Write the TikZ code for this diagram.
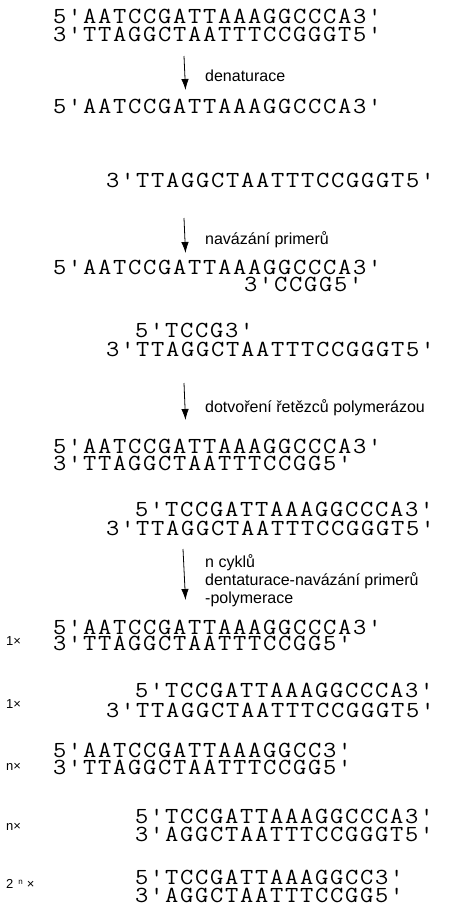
\documentclass[tikz,border=0pt]{standalone}
\usepackage{fontspec}
\setmainfont{Liberation Sans}
\usetikzlibrary{arrows.meta}
\newcommand\dnacells[1]{\dnaloop#1\relax}
\def\dnaloop#1{\ifx\relax#1\else\makebox[15bp]{\scalebox{1.12}[1]{\ifx'#1\textquotesingle\else#1\fi}}\expandafter\dnaloop\fi}
\tikzset{
  dna/.style={anchor=base west, inner sep=0pt, text height=14bp, text depth=0pt, font=\ttfamily\fontsize{23bp}{23bp}\selectfont},
  lab/.style={anchor=base west, inner sep=0pt, font=\fontsize{16bp}{18bp}\selectfont},
  mult/.style={anchor=base west, inner sep=0pt, font=\fontsize{13bp}{13bp}\selectfont},
  arr/.style={-{Latex[length=11bp,width=7.5bp]}, line width=0.8bp}
}
\begin{document}
\begin{tikzpicture}[x=1bp,y=-1bp]
\path[use as bounding box, fill=white] (0,0) rectangle (449,917);
% step 1
\node[dna] (s1) at (52,23.3) {\dnacells{5'AATCCGATTAAAGGCCCA3'}};
\node[dna] (s2) at (52,41) {\dnacells{3'TTAGGCTAATTTCCGGGT5'}};
\coordinate (a1s) at (184,56);
\coordinate (a1e) at (185.5,90);
\draw[arr] (a1s) -- (a1e);
\node[lab] (l1) at (205,81) {denaturace};
% step 2
\node[dna] (s3) at (52,113.5) {\dnacells{5'AATCCGATTAAAGGCCCA3'}};
\node[dna] (s4) at (105,187) {\dnacells{3'TTAGGCTAATTTCCGGGT5'}};
\coordinate (a2s) at (184,218);
\coordinate (a2e) at (185.5,253);
\draw[arr] (a2s) -- (a2e);
\node[lab] (l2) at (205,244) {navázání primerů};
% step 3
\node[dna] (s5) at (52,274.5) {\dnacells{5'AATCCGATTAAAGGCCCA3'}};
\node[dna] (s6) at (243,291) {\dnacells{3'CCGG5'}};
\node[dna] (s7) at (134,337) {\dnacells{5'TCCG3'}};
\node[dna] (s8) at (105,356) {\dnacells{3'TTAGGCTAATTTCCGGGT5'}};
\coordinate (a3s) at (184,383);
\coordinate (a3e) at (185.5,420);
\draw[arr] (a3s) -- (a3e);
\node[lab] (l3) at (205,412) {dotvoření řetězců polymerázou};
% step 4
\node[dna] (s9) at (52,453) {\dnacells{5'AATCCGATTAAAGGCCCA3'}};
\node[dna] (s10) at (52,470.5) {\dnacells{3'TTAGGCTAATTTCCGG5'}};
\node[dna] (s11) at (134,516.5) {\dnacells{5'TCCGATTAAAGGCCCA3'}};
\node[dna] (s12) at (105,535.5) {\dnacells{3'TTAGGCTAATTTCCGGGT5'}};
\coordinate (a4s) at (183,549);
\coordinate (a4e) at (185.5,600);
\draw[arr] (a4s) -- (a4e);
\node[lab] (l4a) at (205,567) {n cyklů};
\node[lab] (l4b) at (205,585) {dentaturace-navázání primerů};
\node[lab] (l4c) at (205,603) {-polymerace};
% products
\node[dna] (s13) at (52,634) {\dnacells{5'AATCCGATTAAAGGCCCA3'}};
\node[dna] (s14) at (52,650) {\dnacells{3'TTAGGCTAATTTCCGG5'}};
\node[mult] (m1) at (6,645) {1×};
\node[dna] (s15) at (134,697) {\dnacells{5'TCCGATTAAAGGCCCA3'}};
\node[dna] (s16) at (105,717) {\dnacells{3'TTAGGCTAATTTCCGGGT5'}};
\node[mult] (m2) at (6,708) {1×};
\node[dna] (s17) at (52,757) {\dnacells{5'AATCCGATTAAAGGCC3'}};
\node[dna] (s18) at (52,774) {\dnacells{3'TTAGGCTAATTTCCGG5'}};
\node[mult] (m3) at (6,770) {n×};
\node[dna] (s19) at (134,823) {\dnacells{5'TCCGATTAAAGGCCCA3'}};
\node[dna] (s20) at (134,841) {\dnacells{3'AGGCTAATTTCCGGGT5'}};
\node[mult] (m4) at (6,830) {n×};
\node[dna] (s21) at (134,884) {\dnacells{5'TCCGATTAAAGGCC3'}};
\node[dna] (s22) at (134,902) {\dnacells{3'AGGCTAATTTCCGG5'}};
\node[mult] (m5) at (6,888) {2\hspace{5bp}\raisebox{3.5bp}{\fontsize{8bp}{8bp}\selectfont n}\hspace{4bp}×};
\end{tikzpicture}
\end{document}
